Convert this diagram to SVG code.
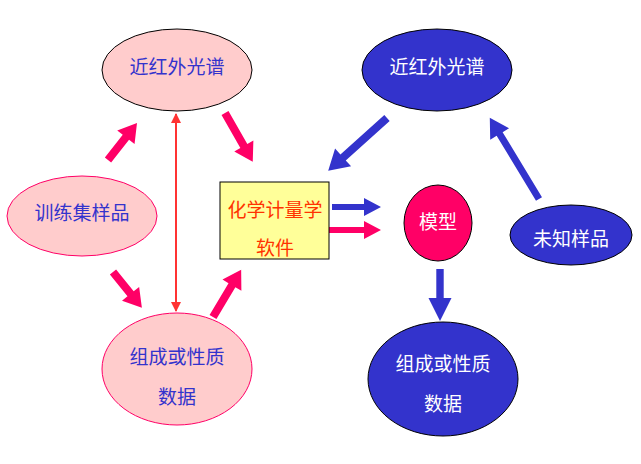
<svg xmlns="http://www.w3.org/2000/svg" width="641" height="464" viewBox="0 0 641 464">
<defs>
<style>
text{font-family:"Noto Sans CJK SC","Liberation Sans",sans-serif;font-size:19px;text-anchor:middle;dominant-baseline:central}
.pinkN{fill:#FFCCCC}
.blueN{fill:#3333CC;stroke:#000;stroke-width:1}
.bt{fill:#3333CC}
.wt{fill:#FFFFFF}
.pa{fill:#FF0066}
.ba{fill:#3333CC}
</style>
<marker id="tri" viewBox="0 0 10 10" refX="9" refY="5" markerWidth="5" markerHeight="5" orient="auto-start-reverse">
<path d="M0,0 L10,5 L0,10 Z" fill="#FF3333"/>
</marker>
</defs>
<rect width="641" height="464" fill="#fff"/>
<g id="connectors">
<line x1="176" y1="114" x2="176" y2="311" stroke="#FF3333" stroke-width="2" marker-start="url(#tri)" marker-end="url(#tri)"/>
<path class="pa" transform="translate(108,160) rotate(-51.9)" d="M0,-4 L29,-4 L29,-11 L47,0 L29,11 L29,4 L0,4 Z"/>
<path class="pa" transform="translate(225,113) rotate(60.3)" d="M0,-4 L38,-4 L38,-11 L56,0 L38,11 L38,4 L0,4 Z"/>
<path class="pa" transform="translate(113,272) rotate(51.1)" d="M0,-4 L28,-4 L28,-11 L46,0 L28,11 L28,4 L0,4 Z"/>
<path class="pa" transform="translate(213,317) rotate(-59.2)" d="M0,-4 L37,-4 L37,-11 L55,0 L37,11 L37,4 L0,4 Z"/>
<path class="ba" transform="translate(387,118) rotate(138.1)" d="M0,-4 L59,-4 L59,-12 L79,0 L59,12 L59,4 L0,4 Z"/>
<path class="ba" transform="translate(539,199) rotate(-121.2)" d="M0,-3.5 L76,-3.5 L76,-11 L95,0 L76,11 L76,3.5 L0,3.5 Z"/>
<path class="ba" transform="translate(332,207)" d="M0,-3 L32,-3 L32,-9 L49,0 L32,9 L32,3 L0,3 Z"/>
<path class="pa" transform="translate(328,230)" d="M0,-3 L36,-3 L36,-9 L53,0 L36,9 L36,3 L0,3 Z"/>
<path class="ba" transform="translate(440,269) rotate(90)" d="M0,-3.7 L29,-3.7 L29,-11.5 L52,0 L29,11.5 L29,3.7 L0,3.7 Z"/>
</g>
<g id="nir-train">
<ellipse cx="177" cy="70" rx="75" ry="41" class="pinkN" stroke="#000" stroke-width="1"/>
<text x="177" y="65" class="bt">近红外光谱</text>
</g>
<g id="train-samples">
<ellipse cx="82" cy="216" rx="75" ry="40" class="pinkN" stroke="#FF0066" stroke-width="1"/>
<text x="82" y="211" class="bt">训练集样品</text>
</g>
<g id="comp-train">
<ellipse cx="177" cy="369" rx="75" ry="56" class="pinkN" stroke="#FF0066" stroke-width="1"/>
<text x="177" y="355" class="bt">组成或性质</text>
<text x="177" y="395" class="bt">数据</text>
</g>
<g id="software">
<rect x="220" y="182" width="109" height="77" fill="#FFFF99" stroke="#000" stroke-width="1"/>
<text x="275" y="208" fill="#FF3300">化学计量学</text>
<text x="275" y="246" fill="#FF3300">软件</text>
</g>
<g id="nir-unknown">
<ellipse cx="437" cy="70" rx="75" ry="41" class="blueN"/>
<text x="437" y="65" class="wt">近红外光谱</text>
</g>
<g id="model">
<ellipse cx="438" cy="223" rx="34" ry="38" fill="#FF0066" stroke="#000" stroke-width="1"/>
<text x="438" y="220" class="wt">模型</text>
</g>
<g id="unknown-samples">
<ellipse cx="571" cy="235" rx="61" ry="30" class="blueN"/>
<text x="571" y="237" class="wt">未知样品</text>
</g>
<g id="comp-unknown">
<ellipse cx="443" cy="379" rx="75" ry="57" class="blueN"/>
<text x="443" y="362" class="wt">组成或性质</text>
<text x="443" y="402" class="wt">数据</text>
</g>
</svg>
